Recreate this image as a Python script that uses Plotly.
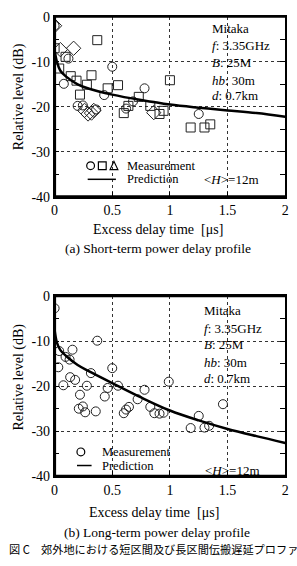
import plotly.graph_objects as go

W, H = 297, 566
SERIF = "Liberation Serif, Times New Roman, serif"

# ---------------- data: (a) short-term ----------------
a_circ_x = [0.0, 0.12, 0.08, 0.50, 0.43, 0.78, 0.20, 0.245, 0.36, 0.62, 0.68, 1.25]
a_circ_y = [-2.0, -9.3, -14.9, -11.1, -17.4, -15.9, -19.8, -19.7, -20.6, -20.4, -18.8, -21.6]
a_sq_x = [0.37, 0.0, 0.095, 0.04, 0.14, 0.19, 0.32, 0.28, 0.22, 0.46, 0.55, 0.73, 0.64,
          0.60, 0.83, 0.91, 0.945, 1.0, 1.18, 1.30, 1.35]
a_sq_y = [-5.2, -7.0, -8.9, -11.5, -13.2, -14.2, -13.0, -15.1, -17.3, -15.9, -15.2, -17.8,
          -19.8, -21.4, -19.8, -21.6, -20.9, -14.1, -24.6, -24.6, -23.9]
a_dia_x = [0.0, 0.05, 0.165, 0.26, 0.29, 0.32, 0.34, 0.86]
a_dia_y = [-2.0, -7.3, -7.0, -20.8, -21.6, -21.4, -20.8, -21.3]
a_pred_x = [0, 0.02, 0.05, 0.1, 0.2, 0.3, 0.5, 0.75, 1.0, 1.25, 1.5, 1.75, 2.0]
a_pred_y = [-7.5, -10.0, -12.0, -13.3, -15.0, -16.0, -17.3, -18.5, -19.5, -20.2, -20.8, -21.4, -22.2]

# ---------------- data: (b) long-term ----------------
b_circ_x = [0.0, 0.37, 0.155, 0.04, 0.095, 0.13, 0.032, 0.50, 0.315, 0.135, 0.178, 0.076,
            0.28, 0.55, 0.46, 0.78, 0.99, 0.22, 0.435, 0.72, 0.21, 0.245, 0.265, 0.357,
            0.60, 0.62, 0.645, 0.83, 0.865, 0.91, 0.945, 1.46, 1.25, 1.18, 1.30, 1.34]
b_circ_y = [-2.7, -9.9, -11.9, -12.2, -13.5, -14.1, -15.8, -16.0, -17.1, -18.0, -18.6, -19.8,
            -19.9, -19.9, -20.4, -20.8, -19.0, -21.9, -22.3, -22.9, -25.0, -24.5, -25.8, -25.6,
            -26.0, -25.2, -24.6, -24.6, -26.0, -26.1, -25.9, -24.0, -26.6, -29.3, -29.2, -28.8]
b_pred_x = [0, 0.02, 0.05, 0.1, 0.2, 0.3, 0.5, 0.75, 1.0, 1.25, 1.5, 1.75, 2.0]
b_pred_y = [-7.5, -10.3, -12.0, -13.3, -15.3, -16.7, -19.3, -22.5, -25.4, -27.6, -29.5, -31.1, -32.6]

x_ticks = [0, 0.5, 1, 1.5, 2]
x_ticktext = ["0", "0.5", "1", "1.5", "2"]
y_ticks = [0, -10, -20, -30, -40]
y_ticktext = ["0", "-10", "-20", "-30", "-40"]


def PX(x):
    return x / W


def PY(y):
    return 1 - y / H


fig = go.Figure()

mk = dict(color="rgba(0,0,0,0)", line=dict(color="#222", width=1))
fig.add_trace(go.Scatter(x=a_circ_x, y=a_circ_y, mode="markers", xaxis="x", yaxis="y",
                         marker=dict(symbol="circle", size=9, **mk)))
fig.add_trace(go.Scatter(x=a_sq_x, y=a_sq_y, mode="markers", xaxis="x", yaxis="y",
                         marker=dict(symbol="square", size=9, **mk)))
fig.add_trace(go.Scatter(x=a_dia_x, y=a_dia_y, mode="markers", xaxis="x", yaxis="y",
                         marker=dict(symbol="diamond", size=11, **mk)))
fig.add_trace(go.Scatter(x=a_pred_x, y=a_pred_y, mode="lines", xaxis="x", yaxis="y",
                         line=dict(color="black", width=2.5, shape="spline")))
fig.add_trace(go.Scatter(x=b_circ_x, y=b_circ_y, mode="markers", xaxis="x2", yaxis="y2",
                         marker=dict(symbol="circle", size=9, **mk)))
fig.add_trace(go.Scatter(x=b_pred_x, y=b_pred_y, mode="lines", xaxis="x2", yaxis="y2",
                         line=dict(color="black", width=2.5, shape="spline")))

xdom = [PX(52), PX(289)]
ydom_a = [PY(195), PY(10)]
ydom_b = [PY(482), PY(297)]

tickfont = dict(family=SERIF, size=14, color="black")


def xax(anchor):
    return dict(domain=xdom, range=[0, 2], anchor=anchor, tickvals=x_ticks, ticktext=x_ticktext,
                ticks="inside", ticklen=5, tickcolor="black", showline=True, linecolor="black",
                linewidth=1.5, mirror=True, showgrid=True, gridcolor="#333", griddash="dot",
                gridwidth=1, zeroline=False, tickfont=tickfont, fixedrange=True)


def yax(dom, anchor):
    return dict(domain=dom, range=[-40, 0], anchor=anchor, tickvals=y_ticks, ticktext=y_ticktext,
                ticks="inside", ticklen=5, tickcolor="black", showline=True, linecolor="black",
                linewidth=1.5, mirror="ticks", showgrid=True, gridcolor="#333", griddash="dot",
                gridwidth=1, zeroline=False, tickfont=tickfont,
                minor=dict(dtick=5, ticks="inside", ticklen=5, tickcolor="black", showgrid=False),
                fixedrange=True)


shapes = []
for xr, yr in [("x", "y"), ("x2", "y2")]:
    shapes.append(dict(type="line", xref=xr + " domain", yref=yr + " domain", x0=0, x1=0, y0=0, y1=1,
                       line=dict(color="black", width=3)))
    shapes.append(dict(type="line", xref=xr + " domain", yref=yr + " domain", x0=0, x1=1, y0=0, y1=0,
                       line=dict(color="black", width=3)))
    shapes.append(dict(type="line", xref=xr + " domain", yref=yr + " domain", x0=0, x1=1, y0=1, y1=1,
                       line=dict(color="black", width=2)))


def circ(cx, cy, r=4):
    return dict(type="circle", xref="paper", yref="paper", x0=PX(cx - r), x1=PX(cx + r),
                y0=PY(cy + r), y1=PY(cy - r), line=dict(color="black", width=1.2))


def rect(cx, cy, r=4):
    return dict(type="rect", xref="paper", yref="paper", x0=PX(cx - r), x1=PX(cx + r),
                y0=PY(cy + r), y1=PY(cy - r), line=dict(color="black", width=1.2))


def hline(x0, x1, y, w=1.5):
    return dict(type="line", xref="paper", yref="paper", x0=PX(x0), x1=PX(x1), y0=PY(y), y1=PY(y),
                line=dict(color="black", width=w))


# legend (a)
shapes.append(circ(89, 163))
shapes.append(rect(101, 163))
shapes.append(dict(type="path", xref="paper", yref="paper",
                   path=f"M {PX(109)} {PY(167)} L {PX(117)} {PY(167)} L {PX(113)} {PY(158.5)} Z",
                   line=dict(color="black", width=1.2)))
shapes.append(hline(86, 115, 177))
# legend (b)
shapes.append(circ(79, 457))
shapes.append(hline(75, 90, 471))

ann = []


def text(t, x, y, size=13, xanchor="left", angle=0, family=SERIF):
    ann.append(dict(text=t, x=PX(x), y=PY(y), xref="paper", yref="paper", showarrow=False,
                    xanchor=xanchor, yanchor="middle", textangle=angle,
                    font=dict(family=family, size=size, color="black")))


# info boxes
for (lx, ys) in [(212, [22, 40, 57, 75, 91]), (203, [312, 330, 347, 365, 382])]:
    text("Mitaka", lx, ys[0])
    text("<i>f</i>: 3.35GHz", lx, ys[1])
    text("<i>B</i>: 25M", lx, ys[2])
    text("<i>hb</i>: 30m", lx, ys[3])
    text("<i>d</i>: 0.7km", lx, ys[4])

text("Measurement", 124, 163, 12.5)
text("Prediction", 124, 177, 12.5)
text("&lt;<i>H</i>&gt;=12m", 203, 177, 13)
text("Measurement", 99, 457, 12.5)
text("Prediction", 99, 471, 12.5)
text("&lt;<i>H</i>&gt;=12m", 205, 476, 13)

text("Relative level (dB)", 15, 92, 14, xanchor="center", angle=-90)
text("Relative level (dB)", 15, 380, 14, xanchor="center", angle=-90)
text("Excess delay time  [μs]", 158, 229, 14, xanchor="center")
text("Excess delay time  [μs]", 154, 519, 14, xanchor="center")
text("(a) Short-term power delay profile", 158, 248, 13.5, xanchor="center")
text("(b) Long-term power delay profile", 157, 540, 13.5, xanchor="center")
text("図 C　郊外地における短区間及び長区間伝搬遅延プロファ", 3, 557, 11.2,
     family="Noto Sans CJK JP")

fig.update_layout(
    width=W, height=H, margin=dict(l=0, r=0, t=0, b=0),
    paper_bgcolor="white", plot_bgcolor="white", showlegend=False,
    xaxis=xax("y"), yaxis=yax(ydom_a, "x"),
    xaxis2=xax("y2"), yaxis2=yax(ydom_b, "x2"),
    shapes=shapes, annotations=ann,
)

fig.write_html("out.html")
